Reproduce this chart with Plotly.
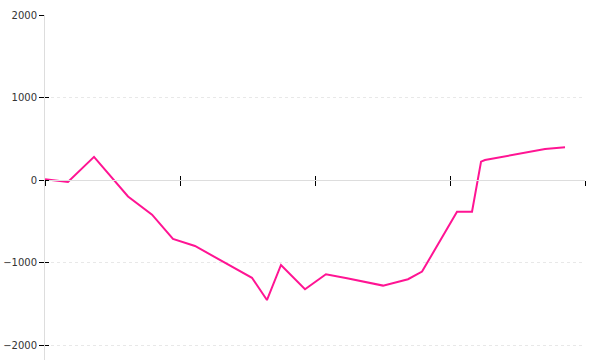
import plotly.graph_objects as go

x_vals = [0.0, 0.17, 0.363, 0.615, 0.793, 0.948, 1.111, 1.533, 1.644, 1.748,
          1.926, 2.081, 2.237, 2.504, 2.689, 2.793, 3.052, 3.163, 3.23, 3.259,
          3.704, 3.852]
y_vals = [10, -25, 280, -200, -420, -715, -800, -1185, -1455, -1030,
          -1325, -1143, -1190, -1280, -1203, -1110, -385, -385, 222, 242,
          376, 396]
y_ticks = [-2000, -1000, 0, 1000, 2000]
x_ticks = [0, 1, 2, 3, 4]

Y_MIN, Y_MAX = -2181.8, 2000
zero_pos = (0 - Y_MIN) / (Y_MAX - Y_MIN)

fig = go.Figure()
fig.add_trace(go.Scatter(x=x_vals, y=y_vals, mode="lines",
                         line=dict(color="#FF1493", width=2),
                         xaxis="x", yaxis="y", hoverinfo="skip"))
# invisible twin to anchor the second pair of axes (for crossing ticks)
fig.add_trace(go.Scatter(x=x_vals, y=y_vals, mode="lines", opacity=0,
                         line=dict(color="#FF1493", width=1),
                         xaxis="x2", yaxis="y2", hoverinfo="skip"))

common_x = dict(range=[0, 4], tickvals=x_ticks, showticklabels=False,
                showgrid=False, zeroline=False, anchor="free", position=zero_pos,
                tickcolor="#000", tickwidth=1)
common_y = dict(range=[Y_MIN, Y_MAX], tickvals=y_ticks, zeroline=False,
                tickcolor="#000", tickwidth=1)

fig.update_layout(
    width=600, height=360,
    margin=dict(l=45, r=15, t=15, b=0),
    paper_bgcolor="white", plot_bgcolor="white",
    showlegend=False,
    font=dict(family="DejaVu Sans", size=10, color="#333"),
    xaxis=dict(**common_x, ticks="outside", ticklen=5,
               showline=True, linecolor="#dddddd", linewidth=1),
    xaxis2=dict(**common_x, overlaying="x", ticks="inside", ticklen=4,
                showline=False),
    yaxis=dict(**common_y, ticks="outside", ticklen=5, showticklabels=True,
               tickfont=dict(family="DejaVu Sans", size=10, color="#333"),
               showgrid=True, gridcolor="#e8e8e8", griddash="dot", gridwidth=1,
               showline=True, linecolor="#dddddd", linewidth=1, anchor="x"),
    yaxis2=dict(**common_y, overlaying="y", side="left", anchor="x",
                ticks="inside", ticklen=4, showticklabels=False, showgrid=False,
                showline=False),
)

fig.write_html("out.html")
